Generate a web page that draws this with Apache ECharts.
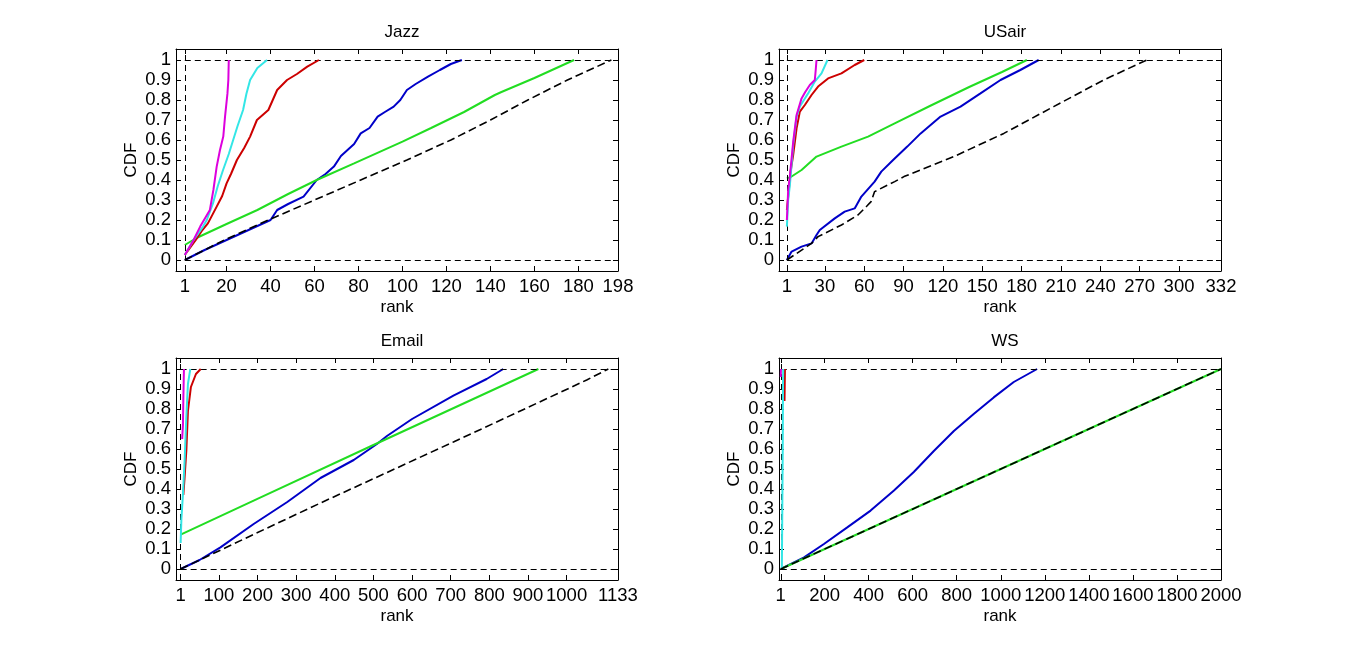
<!DOCTYPE html>
<html>
<head>
<meta charset="utf-8">
<title>CDF of rank</title>
<script src="https://cdn.jsdelivr.net/npm/echarts@6.0.0/dist/echarts.min.js"></script>
<style>
  html, body { margin: 0; padding: 0; background: #fff; }
  #main { width: 1367px; height: 651px; }
</style>
</head>
<body>
<div id="main"></div>
<script>
// panel names and x ranges
var panelTitles = ['Jazz', 'USair', 'Email', 'WS'];
var xMaxes = [198, 332, 1133, 2000];
var jazzXTicks = [1, 20, 40, 60, 80, 100, 120, 140, 160, 180, 198];
var usairXTicks = [1, 30, 60, 90, 120, 150, 180, 210, 240, 270, 300, 332];
var emailXTicks = [1, 100, 200, 300, 400, 500, 600, 700, 800, 900, 1000, 1133];
var wsXTicks = [1, 200, 400, 600, 800, 1000, 1200, 1400, 1600, 1800, 2000];
var cdfTicks = [0, 0.1, 0.2, 0.3, 0.4, 0.5, 0.6, 0.7, 0.8, 0.9, 1];
var refLevels = [0, 1];
var refRank = 1;

// Jazz
var jazzBlue = [[1, 0], [10, 0.05], [20, 0.1], [30, 0.15], [40, 0.2], [43, 0.25], [48, 0.28], [55, 0.317], [61, 0.4], [65, 0.43], [68.8, 0.467], [72, 0.52], [75, 0.55], [78, 0.58], [81, 0.633], [85, 0.66], [88.7, 0.717], [92, 0.74], [96, 0.767], [99, 0.8], [102, 0.85], [106, 0.88], [111.6, 0.917], [117, 0.95], [122, 0.98], [127, 1]];
var jazzGreen = [[1, 0.075], [6.3, 0.11], [20, 0.18], [34, 0.25], [48, 0.33], [61, 0.4], [78, 0.483], [100, 0.592], [113, 0.66], [128, 0.74], [142, 0.825], [145, 0.84], [160, 0.91], [178, 1]];
var jazzRed = [[1, 0.025], [6, 0.1], [9, 0.15], [11.5, 0.183], [15.5, 0.267], [18, 0.32], [20, 0.383], [22, 0.43], [24.7, 0.5], [28, 0.56], [30.7, 0.617], [33.8, 0.7], [39, 0.75], [43, 0.85], [47.5, 0.9], [52, 0.93], [56.7, 0.967], [62, 1]];
var jazzCyan = [[1, 0.025], [5, 0.1], [9.3, 0.167], [11, 0.2], [13.8, 0.283], [16, 0.37], [18.4, 0.45], [21, 0.53], [23, 0.6], [25, 0.67], [27.5, 0.75], [29, 0.83], [30.7, 0.9], [34, 0.96], [38.4, 1]];
var jazzMagenta = [[1, 0.025], [5, 0.1], [8, 0.167], [12.4, 0.25], [14, 0.35], [15.5, 0.467], [17, 0.55], [18.5, 0.617], [19.3, 0.717], [20.4, 0.833], [20.8, 0.9], [21, 1]];
var jazzBlack = [[1, 0], [19, 0.1], [39, 0.2], [60, 0.3], [81, 0.4], [102, 0.5], [122, 0.6], [140, 0.7], [157, 0.8], [175, 0.9], [195, 1]];

// USair
var usairBlue = [[1, 0], [4.6, 0.042], [12.2, 0.067], [19.8, 0.083], [23.6, 0.125], [26.1, 0.15], [37.5, 0.208], [45.1, 0.242], [52.7, 0.258], [57.8, 0.317], [67.9, 0.392], [73, 0.442], [82, 0.5], [92.8, 0.567], [103, 0.633], [118.2, 0.717], [133.4, 0.767], [148.6, 0.833], [163.9, 0.9], [179, 0.95], [193, 1]];
var usairGreen = [[1, 0.408], [4, 0.415], [12.2, 0.45], [23.6, 0.517], [42.6, 0.567], [62.9, 0.617], [83.2, 0.683], [110, 0.77], [140, 0.865], [165, 0.94], [184, 1]];
var usairRed = [[1, 0.25], [2.5, 0.35], [3.8, 0.44], [5.8, 0.525], [8.4, 0.658], [10.9, 0.742], [14.7, 0.775], [19.8, 0.825], [24.8, 0.867], [32.4, 0.908], [42.6, 0.933], [52.7, 0.975], [60, 1]];
var usairCyan = [[1, 0.167], [2, 0.3], [3.3, 0.375], [5.8, 0.575], [8.4, 0.717], [10.9, 0.767], [14, 0.8], [17.2, 0.833], [22.3, 0.892], [27.4, 0.933], [32, 1]];
var usairMagenta = [[1, 0.2], [2, 0.35], [3.3, 0.42], [5.8, 0.59], [8.4, 0.725], [12.2, 0.808], [15, 0.84], [18.5, 0.875], [22.3, 0.9], [23, 0.95], [23.6, 1]];
var usairBlack = [[1, 0], [19.8, 0.083], [24.8, 0.117], [42.6, 0.175], [55.2, 0.225], [62, 0.27], [65.2, 0.292], [67.9, 0.342], [83.2, 0.392], [90.3, 0.417], [128.3, 0.517], [166.4, 0.633], [204.4, 0.767], [242.5, 0.9], [275.5, 1]];

// Email
var emailBlue = [[1, 0], [50, 0.045], [104, 0.108], [190, 0.225], [277, 0.335], [363, 0.455], [449, 0.545], [509, 0.625], [535, 0.665], [600, 0.75], [707, 0.867], [793, 0.95], [836, 1]];
var emailGreen = [[1, 0.172], [190, 0.342], [500, 0.62], [927, 1]];
var emailRed = [[8, 0.37], [11, 0.45], [15.7, 0.59], [19.9, 0.79], [27.6, 0.91], [40.6, 0.975], [53, 1]];
var emailCyan = [[1, 0.13], [3, 0.25], [7, 0.375], [11.3, 0.54], [15.7, 0.76], [19.9, 0.925], [26, 1]];
var emailMagenta = [[5, 0.65], [7, 0.72], [8, 0.85], [9, 0.95], [9.6, 1]];
var emailBlack = [[1, 0], [190, 0.173], [363, 0.33], [707, 0.635], [880, 0.79], [1052, 0.945], [1108, 1]];

// WS
var wsBlue = [[1, 0], [107, 0.058], [197, 0.125], [303, 0.208], [409, 0.292], [515, 0.392], [605, 0.485], [696, 0.59], [787, 0.69], [877, 0.775], [968, 0.858], [1059, 0.935], [1165, 1]];
var wsGreen = [[1, 0], [1000, 0.5], [2000, 1]];
var wsRed = [[18, 0.84], [19, 0.92], [20, 1]];
var wsCyan = [[6, 0], [8, 0.3], [10, 0.6], [11, 0.9], [12, 1]];
var wsMagenta = [[1, 0.96], [2, 1]];
var wsBlack = [[1, 0], [1000, 0.5], [2000, 1]];

var panelTicks = [jazzXTicks, usairXTicks, emailXTicks, wsXTicks];
var panelLines = [
    [jazzBlue, jazzGreen, jazzRed, jazzCyan, jazzMagenta, jazzBlack],
    [usairBlue, usairGreen, usairRed, usairCyan, usairMagenta, usairBlack],
    [emailBlue, emailGreen, emailRed, emailCyan, emailMagenta, emailBlack],
    [wsBlue, wsGreen, wsRed, wsCyan, wsMagenta, wsBlack]
];

// layout / styles
var fontName = 'Liberation Sans, Arial, Helvetica, sans-serif';
var lineColors = ['#0000c8', '#22dd22', '#cc0000', '#33e6e6', '#dd00dd', '#000000'];
var xMins = [-3, -5, -11, -7];
var yMin = -0.055, yMax = 1.055;
var boxes = [
    { left: 176, top: 49 },
    { left: 779, top: 49 },
    { left: 176, top: 358 },
    { left: 779, top: 358 }
];
var boxW = 442, boxH = 222;

function cdfLabel(v) {
    return String(Number(v.toFixed(1)));
}
function rankLabel(v) {
    return String(Math.round(v));
}

var grids = [], xAxes = [], yAxes = [], titles = [], series = [];

boxes.forEach(function (b, i) {
    grids.push({ left: b.left, top: b.top, width: boxW, height: boxH, outerBoundsMode: 'none', containLabel: false });
    titles.push({
        text: panelTitles[i],
        left: b.left + boxW / 2,
        top: b.top - 30,
        textAlign: 'center',
        textStyle: { fontFamily: fontName, fontSize: 17, fontWeight: 'normal', color: '#000' }
    });
    var lineAx = { show: true, onZero: false, lineStyle: { color: '#000', width: 1 } };
    var tickAx = function (vals) {
        return { show: true, inside: true, length: 5, customValues: vals, lineStyle: { color: '#000', width: 1 } };
    };
    // bottom and top x axes
    xAxes.push({
        type: 'value', gridIndex: i, position: 'bottom', min: xMins[i], max: xMaxes[i],
        name: 'rank', nameLocation: 'middle', nameGap: 28,
        nameTextStyle: { fontFamily: fontName, fontSize: 17, color: '#000' },
        axisLine: lineAx, axisTick: tickAx(panelTicks[i]), splitLine: { show: false },
        axisLabel: {
            customValues: panelTicks[i], margin: 6, hideOverlap: false,
            showMinLabel: true, showMaxLabel: true, formatter: rankLabel,
            fontFamily: fontName, fontSize: 18.5, color: '#000'
        }
    });
    xAxes.push({
        type: 'value', gridIndex: i, position: 'top', min: xMins[i], max: xMaxes[i],
        axisLine: lineAx, axisTick: tickAx(panelTicks[i]), splitLine: { show: false },
        axisLabel: { show: false }
    });
    // left and right y axes
    yAxes.push({
        type: 'value', gridIndex: i, position: 'left', min: yMin, max: yMax,
        name: 'CDF', nameLocation: 'middle', nameGap: 36, nameRotate: 90,
        nameTextStyle: { fontFamily: fontName, fontSize: 17, color: '#000' },
        axisLine: lineAx, axisTick: tickAx(cdfTicks), splitLine: { show: false },
        axisLabel: {
            customValues: cdfTicks, margin: 5, formatter: cdfLabel,
            showMinLabel: true, showMaxLabel: true,
            fontFamily: fontName, fontSize: 18.5, color: '#000'
        }
    });
    yAxes.push({
        type: 'value', gridIndex: i, position: 'right', min: yMin, max: yMax,
        axisLine: lineAx, axisTick: tickAx(cdfTicks), splitLine: { show: false },
        axisLabel: { show: false }
    });

    // dashed reference lines at CDF 0 and 1, and at rank 1
    var refs = refLevels.map(function (lv) {
        return [{ coord: [refRank, lv] }, { coord: [xMaxes[i], lv] }];
    });
    refs.push([{ coord: [refRank, yMin] }, { coord: [refRank, yMax] }]);

    panelLines[i].forEach(function (pts, k) {
        var isRandom = (k === lineColors.length - 1);
        var s = {
            type: 'line', xAxisIndex: i * 2, yAxisIndex: i * 2,
            data: pts, showSymbol: false, symbol: 'none', silent: true,
            lineStyle: {
                color: lineColors[k], width: isRandom ? 1.6 : 2,
                type: isRandom ? [8, 4] : 'solid'
            },
            z: 3 + k
        };
        if (k === 0) {
            s.markLine = {
                silent: true, symbol: ['none', 'none'], label: { show: false },
                lineStyle: { color: '#000', width: 1, type: [6, 4] },
                data: refs
            };
        }
        series.push(s);
    });
});

var chart = echarts.init(document.getElementById('main'));
chart.setOption({
    backgroundColor: '#fff',
    animation: false,
    title: titles,
    grid: grids,
    xAxis: xAxes,
    yAxis: yAxes,
    series: series
});
</script>
</body>
</html>
